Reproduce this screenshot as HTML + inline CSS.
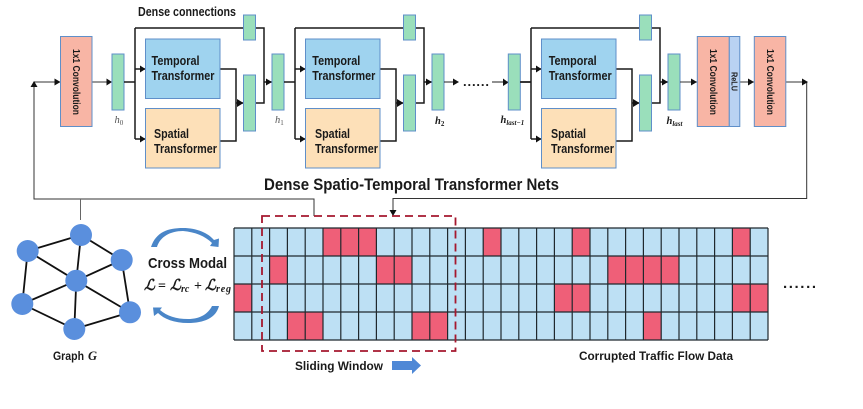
<!DOCTYPE html>
<html>
<head>
<meta charset="utf-8">
<style>
html,body{margin:0;padding:0;background:#fff;width:863px;height:409px;overflow:hidden}
svg{display:block;filter:blur(0.35px)}
text{font-family:"Liberation Sans",sans-serif;font-weight:bold;fill:#1a1a1a}
.t{font-size:13px}
.c{font-size:10px}
.m{font-family:"Liberation Serif","DejaVu Serif",serif;font-style:italic}
</style>
</head>
<body>
<svg width="863" height="409" viewBox="0 0 863 409" xmlns="http://www.w3.org/2000/svg">
<defs>
<g id="block">
  <path d="M124 82H135M135 28V139M135 28H264V103H255M135 69H145M135 139H145M264 82H272M220 69H236V141H220" fill="none" stroke="#1a1a1a" stroke-width="1.500"/>
  <path d="M236 103H243" stroke="#1a1a1a" stroke-width="1.500"/>
  <path d="M140 65.500L145.500 69L140 72.500ZM140 135.500L145.500 139L140 142.500ZM266 78.500L272 82L266 85.500ZM237 99L243.500 103L237 107Z" fill="#111"/>
  <rect x="145.500" y="39" width="74.500" height="59.500" fill="#9fd3ef" stroke="#5f8fc9" stroke-width="1"/>
  <rect x="145.500" y="108.500" width="74.500" height="59.500" fill="#fde0b8" stroke="#5f8fc9" stroke-width="1"/>
  <rect x="243.500" y="15" width="12" height="25" fill="#9adfbb" stroke="#5f8fc9" stroke-width="1"/>
  <rect x="243.500" y="75" width="12" height="56" fill="#9adfbb" stroke="#5f8fc9" stroke-width="1"/>
  <rect x="272" y="54" width="12" height="56" fill="#9adfbb" stroke="#5f8fc9" stroke-width="1"/>
</g>
</defs>

<!-- left feedback and input -->
<path d="M34 84V199H314V216M34 82H60M92 82H112" fill="none" stroke="#333" stroke-width="1"/>
<path d="M80.500 199V220" stroke="#666" stroke-width="1"/>
<path d="M30.500 87L34 81L37.500 87ZM54.500 78.500L60.500 82L54.500 85.500ZM106.500 78.500L112 82L106.500 85.500Z" fill="#111"/>
<rect x="60.500" y="36.500" width="31.500" height="90" fill="#f8b5a5" stroke="#5f8fc9"/>
<rect x="112" y="54" width="12" height="56" fill="#9adfbb" stroke="#5f8fc9"/>

<use href="#block"/>
<use href="#block" x="160"/>
<use href="#block" x="396"/>

<!-- dots region arrows -->
<path d="M444 82H455M492 82H508" stroke="#222" stroke-width="1"/>
<path d="M453 78.500L459 82L453 85.500ZM503 78.500L508.500 82.500L503 86Z" fill="#111"/>
<rect x="508.300" y="54" width="12" height="56" fill="#9adfbb" stroke="#5f8fc9"/>
<path d="M520 82H531" stroke="#1a1a1a" stroke-width="1.500"/>
<text x="463" y="86" font-size="13" textLength="26">......</text>

<!-- output -->
<path d="M680 82H697M740 82H754M786 82H806.700V198.500H393V216" fill="none" stroke="#333" stroke-width="1"/>
<path d="M691 78.500L697 82L691 85.500ZM748 78.500L754 82L748 85.500ZM802 78.500L808 82L802 85.500ZM389.500 210L393 216L396.500 210Z" fill="#111"/>
<rect x="697.300" y="36.500" width="32" height="90" fill="#f8b5a5" stroke="#5f8fc9"/>
<rect x="729.300" y="36.500" width="10.500" height="90" fill="#b9d2f2" stroke="#5f8fc9"/>
<rect x="754.300" y="36.500" width="31.500" height="90" fill="#f8b5a5" stroke="#5f8fc9"/>

<!-- top texts -->
<text x="138" y="16" font-size="12.500" textLength="98" lengthAdjust="spacingAndGlyphs">Dense connections</text>

<text class="c" transform="translate(73,49) rotate(90)" textLength="66" lengthAdjust="spacingAndGlyphs">1x1 Convolution</text>
<text class="c" transform="translate(710,49) rotate(90)" textLength="66" lengthAdjust="spacingAndGlyphs">1x1 Convolution</text>
<text class="c" transform="translate(767,49) rotate(90)" textLength="66" lengthAdjust="spacingAndGlyphs">1x1 Convolution</text>
<text transform="translate(731.500,72) rotate(90)" font-size="8" textLength="19" lengthAdjust="spacingAndGlyphs">ReLU</text>

<text class="t" x="151.500" y="65" textLength="48" lengthAdjust="spacingAndGlyphs">Temporal</text>
<text class="t" x="151.500" y="80" textLength="63" lengthAdjust="spacingAndGlyphs">Transformer</text>
<text class="t" x="154" y="138" textLength="35" lengthAdjust="spacingAndGlyphs">Spatial</text>
<text class="t" x="154" y="153" textLength="63" lengthAdjust="spacingAndGlyphs">Transformer</text>

<text class="t" x="312.300" y="65" textLength="48" lengthAdjust="spacingAndGlyphs">Temporal</text>
<text class="t" x="312.300" y="80" textLength="63" lengthAdjust="spacingAndGlyphs">Transformer</text>
<text class="t" x="315" y="138" textLength="35" lengthAdjust="spacingAndGlyphs">Spatial</text>
<text class="t" x="315" y="153" textLength="63" lengthAdjust="spacingAndGlyphs">Transformer</text>

<text class="t" x="548.700" y="65" textLength="48" lengthAdjust="spacingAndGlyphs">Temporal</text>
<text class="t" x="548.700" y="80" textLength="63" lengthAdjust="spacingAndGlyphs">Transformer</text>
<text class="t" x="551" y="138" textLength="35" lengthAdjust="spacingAndGlyphs">Spatial</text>
<text class="t" x="551" y="153" textLength="63" lengthAdjust="spacingAndGlyphs">Transformer</text>

<!-- h labels -->
<text class="m" x="114.500" y="123" font-size="10.500" style="font-weight:normal;fill:#555">h<tspan font-size="7" dy="2" style="font-style:normal">0</tspan></text>
<text class="m" x="275" y="123" font-size="10.500" style="font-weight:normal;fill:#555">h<tspan font-size="7" dy="2" style="font-style:normal">1</tspan></text>
<text class="m" x="435" y="124" font-size="10.500">h<tspan font-size="7" dy="2" style="font-style:normal">2</tspan></text>
<text class="m" x="500.500" y="123" font-size="10.500">h<tspan font-size="7" dy="2">last−1</tspan></text>
<text class="m" x="666.500" y="124" font-size="10.500">h<tspan font-size="7" dy="2">last</tspan></text>

<text x="264" y="190" font-size="16.500" textLength="295" lengthAdjust="spacingAndGlyphs">Dense Spatio-Temporal Transformer Nets</text>

<!-- graph -->
<path d="M27.700 251L81 235L121.700 260L130 312.300L74.300 329L22.300 304L27.700 251M81 235L76.300 280.700M27.700 251L76.300 280.700M121.700 260L76.300 280.700M22.300 304L76.300 280.700M130 312.300L76.300 280.700M74.300 329L76.300 280.700" fill="none" stroke="#111" stroke-width="1.800"/>
<g fill="#5a8fdd">
<circle cx="81" cy="235" r="11"/>
<circle cx="27.700" cy="251" r="11"/>
<circle cx="121.700" cy="260" r="11"/>
<circle cx="76.300" cy="280.700" r="11"/>
<circle cx="22.300" cy="304" r="11"/>
<circle cx="130" cy="312.300" r="11"/>
<circle cx="74.300" cy="329" r="11"/>
</g>
<text x="53" y="360" font-size="12" textLength="31" lengthAdjust="spacingAndGlyphs">Graph</text>
<text class="m" x="88" y="360" font-size="12.500">G</text>

<!-- cross modal -->
<path d="M151 247C156 232 168 228 183 228C197 228 208 233 214 240L219 238.500L218.500 247L210 246L212 243C205 236 195 232 183 231C170 231 160 237 157 247Z" fill="#4a86c8"/>
<path d="M219 306C216 318 204 323 188 323C174 323 164 319 158 313L154 316L153 307.500L162 307.500L160 310C167 316 176 319 188 319C200 319 208 314 212 306Z" fill="#4a86c8"/>
<text x="148" y="268" font-size="15" textLength="79" lengthAdjust="spacingAndGlyphs">Cross Modal</text>
<text class="m" x="144" y="290" font-size="15" style="font-weight:bold">ℒ</text>
<text x="158" y="290" font-size="14" style="font-family:'Liberation Serif',serif">=</text>
<text class="m" x="170" y="290" font-size="15" style="font-weight:bold">ℒ</text>
<text class="m" x="181" y="292" font-size="10">rc</text>
<text x="194" y="290" font-size="14" style="font-family:'Liberation Serif',serif">+</text>
<text class="m" x="205" y="290" font-size="15" style="font-weight:bold">ℒ</text>
<text class="m" x="216" y="292" font-size="10" textLength="15">reg</text>

<!-- grid -->
<rect x="234" y="228" width="534" height="112" fill="#bde0f4"/>
<g fill="#ef5f78">
<rect x="323" y="228" width="53.400" height="28"/>
<rect x="483.200" y="228" width="17.800" height="28"/>
<rect x="572.200" y="228" width="17.800" height="28"/>
<rect x="732.400" y="228" width="17.800" height="28"/>
<rect x="269.600" y="256" width="17.800" height="28"/>
<rect x="376.400" y="256" width="35.600" height="28"/>
<rect x="607.800" y="256" width="71.200" height="28"/>
<rect x="234" y="284" width="17.800" height="28"/>
<rect x="554.400" y="284" width="35.600" height="28"/>
<rect x="732.400" y="284" width="35.600" height="28"/>
<rect x="287.400" y="312" width="35.600" height="28"/>
<rect x="412" y="312" width="35.600" height="28"/>
<rect x="643.400" y="312" width="17.800" height="28"/>
</g>
<path d="M234 228H768M234 256H768M234 284H768M234 312H768M234 340H768M234 228V340M251.800 228V340M269.600 228V340M287.400 228V340M305.200 228V340M323 228V340M340.800 228V340M358.600 228V340M376.400 228V340M394.200 228V340M412 228V340M429.800 228V340M447.600 228V340M465.400 228V340M483.200 228V340M501 228V340M518.800 228V340M536.600 228V340M554.400 228V340M572.200 228V340M590 228V340M607.800 228V340M625.600 228V340M643.400 228V340M661.200 228V340M679 228V340M696.800 228V340M714.600 228V340M732.400 228V340M750.200 228V340M768 228V340" fill="none" stroke="#1f282d" stroke-width="1.200"/>

<rect x="262" y="216" width="193.500" height="135" fill="none" stroke="#a5182f" stroke-width="1.800" stroke-dasharray="8 5"/>

<text x="295" y="370" font-size="12" textLength="88" lengthAdjust="spacingAndGlyphs">Sliding Window</text>
<path d="M392 361H412V357L421 365.500L412 374V370H392Z" fill="#4f88d6"/>
<text x="579" y="360" font-size="12" textLength="154" lengthAdjust="spacingAndGlyphs">Corrupted Traffic Flow Data</text>
<text x="783" y="288" font-size="15" textLength="33">......</text>
</svg>
</body>
</html>
